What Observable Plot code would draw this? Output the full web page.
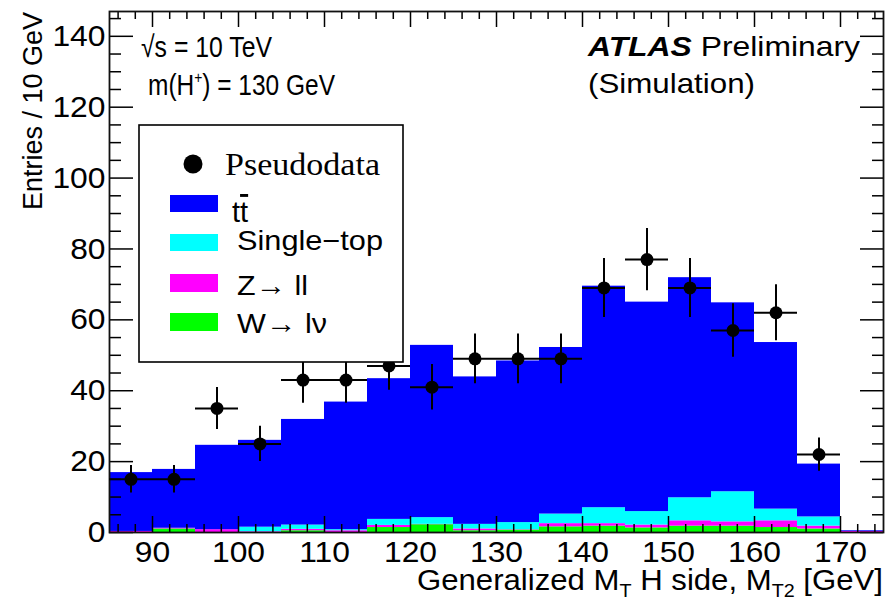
<!DOCTYPE html>
<html><head><meta charset="utf-8">
<script src="https://cdn.jsdelivr.net/npm/d3@7"></script>
<script src="https://cdn.jsdelivr.net/npm/@observablehq/plot@0.6"></script>
<style>
body{margin:0;background:#fff;}
#chart{position:relative;width:893px;height:604px;overflow:hidden;}
svg text{font-family:"Liberation Sans",Arial,sans-serif;}
</style>
</head><body><div id="chart"></div>
<script>
// ---- data ----
const binLow     = [85, 90, 95, 100, 105, 110, 115, 120, 125, 130, 135, 140, 145, 150, 155, 160, 165, 170];
const binWidth   = 5;
const wlnu       = [0.0, 1.0, 0.0, 0.0, 0.5, 0.0, 1.4, 2.2, 0.5, 0.7, 1.6, 1.8, 1.3, 1.8, 1.8, 1.4, 1.0, 0.0];
const zll        = [0.3, 0.2, 0.8, 0.2, 0.4, 0.5, 0.6, 0.1, 0.5, 0.1, 0.9, 0.7, 0.8, 1.5, 1.2, 1.9, 0.8, 0.3];
const singleTop  = [0.0, 0.0, 0.0, 1.3, 1.2, 0.3, 1.7, 1.9, 1.3, 2.0, 2.7, 4.5, 3.8, 6.5, 8.5, 3.3, 2.6, 0.0];
const ttbar      = [16.6, 16.6, 23.8, 24.5, 29.8, 36.0, 39.7, 48.6, 41.6, 45.6, 47.0, 62.5, 59.1, 62.1, 53.3, 47.0, 14.9, 0.2];
const dataCenter = [87.5, 92.5, 97.5, 102.5, 107.5, 112.5, 117.5, 122.5, 127.5, 132.5, 137.5, 142.5, 147.5, 152.5, 157.5, 162.5, 167.5];
const pseudodata = [15, 15, 35, 25, 43, 43, 47, 41, 49, 49, 49, 69, 77, 69, 57, 62, 22];
const xMajorTicks = [90, 100, 110, 120, 130, 140, 150, 160, 170];
const xMinorTicks = d3.range(86, 175, 2).filter(v => v % 10 !== 0);
const yMajorTicks = [0, 20, 40, 60, 80, 100, 120, 140];
const yMinorTicks = d3.range(5, 146, 5).filter(v => v % 20 !== 0);
const seriesNames  = ["W→ lν", "Z→ ll", "Single−top", "tt̄"];
const seriesColors = ["#00ff00", "#ff00ff", "#00ffff", "#0000ff"];
const seriesValues = [wlnu, zll, singleTop, ttbar];

// stacked histogram table
const rows = [];
binLow.forEach((lo, i) => {
  let base = 0;
  seriesValues.forEach((vals, s) => {
    rows.push({x1: lo, x2: lo + binWidth, y1: base, y2: base + vals[i], series: seriesNames[s]});
    base += vals[i];
  });
});
const points = dataCenter.map((c, i) => ({x: c, y: pseudodata[i], e: Math.sqrt(pseudodata[i])}));

const width = 893, height = 604;
const mL = 109, mR = 10, mT = 11, mB = 72;
const innerW = width - mL - mR, innerH = height - mT - mB;

const plot = Plot.plot({
  width, height,
  marginLeft: mL, marginRight: mR, marginTop: mT, marginBottom: mB,
  style: {fontSize: "30px", fontFamily: "Liberation Sans, Arial, sans-serif", color: "#000", background: "#fff"},
  x: {domain: [85, 175]},
  y: {domain: [0, 147]},
  color: {domain: seriesNames, range: seriesColors},
  marks: [
    Plot.rect(rows, {x1: "x1", x2: "x2", y1: "y1", y2: "y2", fill: "series"}),
    // inward ticks, ROOT style
    Plot.tickY(yMajorTicks, {y: d => d, insetRight: innerW - 24, stroke: "#000", strokeWidth: 1.5}),
    Plot.tickY(yMinorTicks, {y: d => d, insetRight: innerW - 12, stroke: "#000", strokeWidth: 1.5}),
    Plot.tickY(yMajorTicks, {y: d => d, insetLeft: innerW - 23, stroke: "#000", strokeWidth: 1.5}),
    Plot.tickY(yMinorTicks, {y: d => d, insetLeft: innerW - 11, stroke: "#000", strokeWidth: 1.5}),
    Plot.tickX(xMajorTicks, {x: d => d, insetTop: innerH - 16, stroke: "#000", strokeWidth: 1.5}),
    Plot.tickX(xMinorTicks, {x: d => d, insetTop: innerH - 8, stroke: "#000", strokeWidth: 1.5}),
    Plot.tickX(xMajorTicks, {x: d => d, insetBottom: innerH - 16, stroke: "#000", strokeWidth: 1.5}),
    Plot.tickX(xMinorTicks, {x: d => d, insetBottom: innerH - 8, stroke: "#000", strokeWidth: 1.5}),
    Plot.frame({stroke: "#111", strokeWidth: 1.8}),
    Plot.axisX({ticks: xMajorTicks, tickSize: 0, tickPadding: 8, label: null}),
    Plot.axisY({ticks: yMajorTicks, tickSize: 0, tickPadding: 4, label: null}),
    // pseudodata with error bars
    Plot.ruleX(points, {x: "x", y1: d => d.y - d.e, y2: d => d.y + d.e, stroke: "#000", strokeWidth: 2}),
    Plot.ruleY(points, {y: "y", x1: d => d.x - binWidth / 2, x2: d => d.x + binWidth / 2, stroke: "#000", strokeWidth: 2}),
    Plot.dot(points, {x: "x", y: "y", r: 6.5, fill: "#000"})
  ]
});
document.getElementById("chart").append(plot);

const svg = d3.select(plot);
// stretch axis tick labels slightly (ROOT fonts are wider)
svg.selectAll('g[aria-label$="tick label"] text').each(function() {
  const w = this.getComputedTextLength();
  this.setAttribute("textLength", w * 1.06);
  this.setAttribute("lengthAdjust", "spacingAndGlyphs");
});

function fit(sel, w) { sel.attr("textLength", w).attr("lengthAdjust", "spacingAndGlyphs"); return sel; }

const ann = svg.append("g").attr("fill", "#000").attr("text-anchor", "start");
// y axis title
fit(ann.append("text").attr("transform", "translate(42,12) rotate(-90)")
  .attr("text-anchor", "end").attr("font-size", 27.5).text("Entries / 10 GeV"), 198);
// x axis title
const xt = ann.append("text").attr("x", 883).attr("y", 590).attr("text-anchor", "end").attr("font-size", 30);
xt.append("tspan").text("Generalized M");
xt.append("tspan").attr("dy", 7).attr("font-size", 19).text("T");
xt.append("tspan").attr("dy", -7).text(" H side, M");
xt.append("tspan").attr("dy", 7).attr("font-size", 19).text("T2");
xt.append("tspan").attr("dy", -7).text(" [GeV]");
fit(xt, 466);

// top-left annotations (condensed in the reference)
fit(ann.append("text").attr("x", 141).attr("y", 57).attr("font-size", 30).text("√s = 10 TeV"), 131);
const mh = ann.append("text").attr("x", 148).attr("y", 95).attr("font-size", 30);
mh.append("tspan").text("m(H");
mh.append("tspan").attr("dy", -12).attr("font-size", 17).text("+");
mh.append("tspan").attr("dy", 12).text(") = 130 GeV");
fit(mh, 187);
// top-right annotations
const at = ann.append("text").attr("x", 588).attr("y", 56).attr("font-size", 28);
at.append("tspan").attr("font-weight", "bold").attr("font-style", "italic").text("ATLAS");
at.append("tspan").text(" Preliminary");
fit(at, 272);
fit(ann.append("text").attr("x", 588).attr("y", 93).attr("font-size", 28).text("(Simulation)"), 167);

// legend
const lg = svg.append("g").attr("text-anchor", "start").attr("fill", "#000");
lg.append("rect").attr("x", 139).attr("y", 125).attr("width", 264).attr("height", 237)
  .attr("fill", "#fff").attr("stroke", "#000").attr("stroke-width", 1.6);
lg.append("circle").attr("cx", 193).attr("cy", 164).attr("r", 9.5).attr("fill", "#000");
fit(lg.append("text").attr("x", 225).attr("y", 175).attr("font-size", 32)
  .attr("style", "font-family:'Liberation Serif','Times New Roman',serif").text("Pseudodata"), 155);
const legendRows = [
  {name: 3, sy: 195, sh: 17},
  {name: 2, sy: 234, sh: 17},
  {name: 1, sy: 274, sh: 18},
  {name: 0, sy: 313, sh: 18}
];
legendRows.forEach(r => {
  lg.append("rect").attr("x", 170).attr("y", r.sy).attr("width", 48).attr("height", r.sh)
    .attr("fill", seriesColors[r.name]);
});
// tt-bar
const tt = lg.append("text").attr("x", 232).attr("y", 222).attr("font-size", 29);
tt.append("tspan").text("t");
tt.append("tspan").attr("text-decoration", "overline").text("t");
fit(lg.append("text").attr("x", 237).attr("y", 250).attr("font-size", 28).text("Single−top"), 146);
fit(lg.append("text").attr("x", 237).attr("y", 295).attr("font-size", 28).text("Z→ ll"), 71);
fit(lg.append("text").attr("x", 237).attr("y", 333).attr("font-size", 28).text("W→ lν"), 90);
</script>
</body></html>
